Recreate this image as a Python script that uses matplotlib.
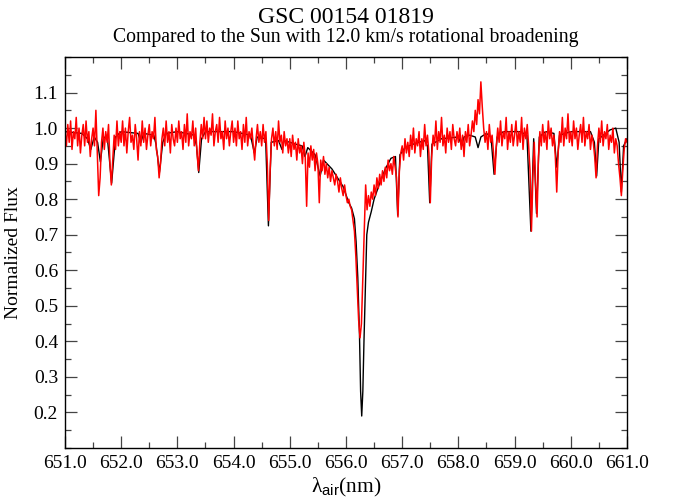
import numpy as np
import matplotlib
matplotlib.use("Agg")
import matplotlib.pyplot as plt
from matplotlib.ticker import MultipleLocator, FormatStrFormatter

# solar reference spectrum (black), knots
sun_wl = [651.00, 651.30, 651.40, 651.46, 651.52, 651.58, 651.63, 651.68, 651.75, 651.83,
          651.90, 652.00, 652.30, 652.35, 652.40, 652.58, 652.62, 652.68, 652.74, 652.80,
          653.00, 653.30, 653.34, 653.38, 653.43, 653.50, 654.00, 654.30, 654.37, 654.42,
          654.57, 654.62, 654.67, 654.80, 654.86, 654.90, 655.10, 655.22, 655.27, 655.32,
          655.45, 655.54, 655.60, 655.75, 655.85, 655.95, 656.05, 656.10, 656.15, 656.18,
          656.21, 656.24, 656.26, 656.28, 656.30, 656.32, 656.345, 656.37, 656.40, 656.45,
          656.50, 656.60, 656.70, 656.80, 656.88, 656.92, 656.96, 657.05, 657.20, 657.40,
          657.45, 657.49, 657.53, 657.70, 658.00, 658.06, 658.10, 658.20, 658.30, 658.35,
          658.40, 658.50, 658.58, 658.635, 658.69, 658.80, 659.10, 659.22, 659.29, 659.34,
          659.39, 659.44, 659.55, 659.70, 659.75, 659.80, 660.00, 660.35, 660.42, 660.46,
          660.50, 660.70, 660.80, 660.86, 660.90, 660.94, 661.00]
sun_flux = [0.99, 0.985, 0.97, 0.94, 0.975, 0.96, 0.905, 0.97, 0.98, 0.845,
            0.975, 0.99, 0.985, 0.96, 0.985, 0.98, 0.955, 0.875, 0.96, 0.985,
            0.99, 0.98, 0.95, 0.875, 0.97, 0.99, 0.99, 0.98, 0.93, 0.975,
            0.97, 0.725, 0.96, 0.965, 0.94, 0.965, 0.955, 0.95, 0.92, 0.945,
            0.925, 0.865, 0.91, 0.885, 0.86, 0.835, 0.79, 0.775, 0.745, 0.68,
            0.58, 0.42, 0.26, 0.19, 0.26, 0.40, 0.55, 0.70, 0.735, 0.765,
            0.80, 0.845, 0.885, 0.915, 0.92, 0.755, 0.925, 0.945, 0.955, 0.965,
            0.95, 0.79, 0.955, 0.97, 0.975, 0.95, 0.975, 0.98, 0.975, 0.945,
            0.975, 0.985, 0.975, 0.87, 0.975, 0.99, 0.99, 0.98, 0.71, 0.97,
            0.76, 0.975, 0.99, 0.985, 0.89, 0.98, 0.99, 0.99, 0.96, 0.865,
            0.97, 0.995, 1.0, 0.96, 0.82, 0.95, 0.97]

# star spectrum (red), sampled every 0.025 nm from 651.0 to 661.0
star_start, star_step = 651.0, 0.025
star_flux = [
    0.99, 0.95, 1.01, 0.96, 1.02, 0.94, 0.99, 0.97, 1.03, 0.95, 1.00, 0.93, 0.98, 1.01, 0.95, 1.02, 0.96, 0.99, 0.92, 0.97,
    1.00, 0.95, 1.05, 0.93, 0.81, 0.86, 0.96, 1.00, 0.94, 0.99, 0.96, 1.01, 0.90, 0.84, 0.91, 0.98, 0.94, 1.02, 0.95, 0.99,
    0.96, 1.02, 0.95, 1.00, 0.93, 0.99, 1.03, 0.96, 0.98, 0.94, 1.01, 0.97, 0.91, 0.99, 0.95, 1.02, 0.96, 1.00, 0.94, 0.98,
    1.01, 0.95, 0.99, 0.97, 1.03, 0.94, 0.92, 0.86, 0.90, 0.97, 1.00, 0.95, 1.02, 0.96, 0.99, 0.93, 1.01, 0.97, 0.95, 1.00,
    0.96, 1.02, 0.97, 0.99, 0.94, 1.01, 0.96, 1.04, 0.95, 0.99, 0.97, 1.02, 0.95, 1.00, 0.93, 0.88, 0.96, 1.01, 0.97, 1.03,
    0.97, 1.02, 0.96, 1.00, 0.98, 1.04, 0.95, 0.99, 1.01, 0.96, 1.03, 0.97, 0.99, 0.94, 1.02, 0.97, 1.00, 0.95, 0.99, 1.02,
    0.96, 1.00, 0.95, 1.02, 0.97, 0.99, 0.94, 1.01, 0.96, 1.03, 0.95, 0.99, 0.97, 1.00, 0.95, 0.91, 0.97, 1.01, 0.96, 0.99,
    0.95, 1.01, 0.96, 0.99, 0.90, 0.74, 0.88, 0.97, 1.00, 0.95, 0.99, 0.94, 1.02, 0.96, 0.98, 0.93, 0.99, 0.95, 0.97, 0.93,
    0.97, 0.92, 0.98, 0.94, 0.96, 0.91, 0.97, 0.93, 0.95, 0.90, 0.96, 0.92, 0.78, 0.93, 0.89, 0.95, 0.91, 0.94, 0.88, 0.93,
    0.90, 0.79, 0.91, 0.88, 0.92, 0.87, 0.90, 0.86, 0.89, 0.85, 0.88, 0.86, 0.84, 0.87, 0.85, 0.82, 0.86, 0.83, 0.81, 0.84,
    0.81, 0.79, 0.80, 0.78, 0.77, 0.74, 0.71, 0.64, 0.55, 0.46, 0.41, 0.45, 0.58, 0.70, 0.84, 0.77, 0.81, 0.78, 0.82, 0.80,
    0.84, 0.81, 0.86, 0.83, 0.87, 0.84, 0.88, 0.85, 0.89, 0.86, 0.91, 0.88, 0.90, 0.87, 0.92, 0.89, 0.86, 0.75, 0.88, 0.93,
    0.95, 0.91, 0.97, 0.93, 0.96, 0.92, 0.98, 0.94, 1.00, 0.93, 0.97, 0.95, 0.99, 0.92, 0.97, 0.94, 1.01, 0.95, 0.98, 0.93,
    0.79, 0.92, 0.98, 0.95, 1.02, 0.94, 0.99, 0.96, 1.03, 0.95, 0.98, 0.93, 1.00, 0.96, 0.99, 0.94, 1.01, 0.97, 0.95, 0.99,
    0.96, 1.00, 0.94, 0.98, 0.92, 0.99, 0.96, 1.01, 0.95, 0.98, 1.02, 0.99, 1.05, 1.01, 1.08, 1.04, 1.13, 1.06, 1.00, 0.96,
    0.99, 0.94, 1.01, 0.96, 0.98, 0.93, 0.87, 0.95, 1.00, 0.96, 1.02, 0.95, 0.99, 0.97, 1.03, 0.94, 0.99, 0.96, 1.01, 0.95,
    0.98, 1.02, 0.95, 0.99, 0.96, 1.03, 0.94, 1.00, 0.97, 1.01, 0.95, 0.88, 0.71, 0.86, 0.96, 0.84, 0.75, 0.92, 0.99, 0.95,
    1.01, 0.96, 0.99, 0.94, 1.02, 0.97, 1.00, 0.95, 0.98, 0.92, 0.82, 0.93, 0.99, 0.96, 1.03, 0.95, 1.00, 0.97, 1.04, 0.96,
    0.99, 0.95, 1.02, 0.97, 1.00, 0.94, 0.98, 1.01, 0.96, 1.03, 0.95, 0.99, 0.97, 1.01, 0.94, 0.98, 0.96, 0.92, 0.86, 0.95,
    1.00, 0.96, 1.02, 0.95, 0.99, 0.97, 1.01, 0.94, 0.98, 0.96, 1.00, 0.93, 0.97, 0.95, 0.90, 0.86, 0.81, 0.88, 0.94, 0.97,
    0.96]
star_wl = star_start + star_step * np.arange(len(star_flux))

title = "GSC 00154 01819"
subtitle = "Compared to the Sun with 12.0 km/s rotational broadening"

plt.rcParams['font.family'] = ['Liberation Serif', 'DejaVu Serif']
plt.rcParams['mathtext.fontset'] = 'custom'
plt.rcParams['mathtext.rm'] = 'Liberation Serif'
plt.rcParams['mathtext.sf'] = 'Liberation Sans'
plt.rcParams['mathtext.it'] = 'Liberation Serif:italic'

fig = plt.figure(figsize=(6.79, 4.99), dpi=100)
ax = fig.add_axes([0.0957, 0.1022, 0.8277, 0.7836])

ax.plot(sun_wl, sun_flux, color='black', lw=1.0)
ax.plot(star_wl, star_flux, color='red', lw=1.1)

ax.set_xlim(651.0, 661.0)
ax.set_ylim(0.1, 1.2)
ax.xaxis.set_major_locator(MultipleLocator(1.0))
ax.xaxis.set_minor_locator(MultipleLocator(0.5))
ax.yaxis.set_major_locator(MultipleLocator(0.1))
ax.yaxis.set_minor_locator(MultipleLocator(0.05))
ax.xaxis.set_major_formatter(FormatStrFormatter('%.1f'))
ax.yaxis.set_major_formatter(FormatStrFormatter('%.1f'))
ax.tick_params(which='both', direction='in', top=True, right=True, labelsize=14, color='#444444')
ax.tick_params(which='major', length=8.5, width=0.9, pad=5)
ax.tick_params(which='minor', length=4.3, width=0.9)
# the bottom-most and top-most y labels are not shown in the reference
ax.set_yticks([0.2, 0.3, 0.4, 0.5, 0.6, 0.7, 0.8, 0.9, 1.0, 1.1])
for s in ax.spines.values():
    s.set_linewidth(1.0)

ax.set_xlabel('λ$_{\\mathsf{air}}$(nm)', fontsize=15.5, labelpad=3)
ax.set_ylabel('Normalized Flux', fontsize=14)
ax.yaxis.set_label_coords(-0.077, 0.5)

fig.text(0.5097, 0.964, title, ha='center', va='center', fontsize=17)
fig.text(0.5097, 0.925, subtitle, ha='center', va='center', fontsize=14.2)

fig.savefig('out.png', dpi=100)
